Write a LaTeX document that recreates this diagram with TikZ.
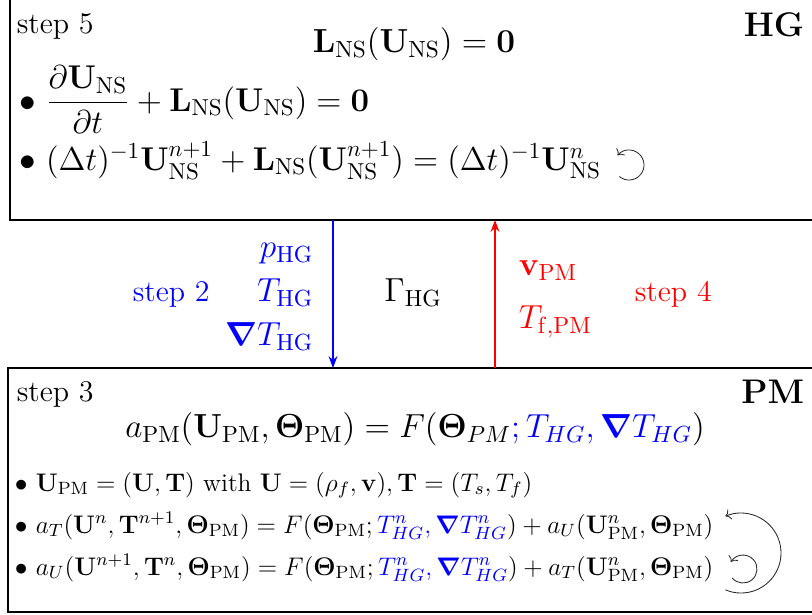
\RequirePackage{fix-cm}
\documentclass[tikz,border=0pt]{standalone}
\usepackage{amsmath}
\usetikzlibrary{arrows.meta}

\begin{document}
\begin{tikzpicture}[>=Stealth, thick, x=0.48pt, y=0.48pt,
  every node/.style={inner sep=0pt},
  steplabel/.style={font=\Large, anchor=base west},
  modelname/.style={font=\fontsize{16.4}{20}\selectfont\bfseries, anchor=base east},
  maineq/.style={font=\fontsize{16}{19}\selectfont, anchor=base},
  flux/.style={font=\fontsize{16}{19}\selectfont},
  hgitem/.style={font=\fontsize{15.8}{19}\selectfont, anchor=base west},
  pmitem/.style={font=\fontsize{12.2}{15}\selectfont, anchor=base west},
  iterloop/.style={thin, black!85, -{Computer Modern Rightarrow}}]
  %--- parameters (pixel grid of the layout)
  \def\xmax{812}
  \def\ymin{-614}
  \def\yhgbot{-220}
  \def\ypmtop{-368}
  \def\ypmbot{-612}
  \def\xdown{333}          % step 2 arrow
  \def\xup{495}            % step 4 arrow

  \useasboundingbox (0,0) rectangle (\xmax,\ymin);

  %--- the two boxes (cut by the frame)
  \draw (10,20) rectangle (\xmax+20,\yhgbot);
  \draw (8,\ypmtop) rectangle (\xmax+20,\ypmbot);

  %--- HG box
  \node[steplabel] (step5) at (16,-33) {step 5};
  \node[modelname] (hg) at (805,-36) {HG};
  \node[maineq] (nseq) at (414,-52)
    {$\mathbf{L}_{\mathrm{NS}}(\mathbf{U}_{\mathrm{NS}})=\mathbf{0}$};
  \node[hgitem] (nscont) at (19,-111)
    {$\bullet$ $\dfrac{\partial\mathbf{U}_{\mathrm{NS}}}{\partial t}
      +\mathbf{L}_{\mathrm{NS}}(\mathbf{U}_{\mathrm{NS}})=\mathbf{0}$};
  \node[hgitem] (nsdisc) at (19,-170)
    {$\bullet$ $(\Delta t)^{-1}\mathbf{U}^{n+1}_{\mathrm{NS}}
      +\mathbf{L}_{\mathrm{NS}}(\mathbf{U}^{n+1}_{\mathrm{NS}})
      =(\Delta t)^{-1}\mathbf{U}^{n}_{\mathrm{NS}}$};
  \coordinate (nsloop) at (629,-165);
  \draw[iterloop] (nsloop) ++(-130:15) arc[start angle=-130, end angle=140, radius=15];

  %--- interface
  \coordinate (hgout) at (\xdown,\yhgbot);
  \coordinate (pmin) at (\xdown,\ypmtop);
  \coordinate (pmout) at (\xup,\ypmtop);
  \coordinate (hgin) at (\xup,\yhgbot);
  \draw[->, blue, semithick] (hgout) -- (pmin);
  \draw[->, red, semithick] (pmout) -- (hgin);

  \node[steplabel, blue] (step2) at (132,-301) {step 2};
  \node[flux, anchor=base east, blue] (phg) at (314,-257) {$p_{\mathrm{HG}}$};
  \node[flux, anchor=base east, blue] (thg) at (314,-301) {$T_{\mathrm{HG}}$};
  \node[flux, anchor=base east, blue] (gradthg) at (314,-345)
    {$\boldsymbol{\nabla}T_{\mathrm{HG}}$};
  \node[maineq] (gamma) at (413,-301) {$\Gamma_{\mathrm{HG}}$};
  \node[flux, anchor=base west, red] (vpm) at (518,-275) {$\mathbf{v}_{\mathrm{PM}}$};
  \node[flux, anchor=base west, red] (tfpm) at (518,-328) {$T_{\mathrm{f,PM}}$};
  \node[steplabel, red] (step4) at (634,-301) {step 4};

  %--- PM box
  \node[steplabel] (step3) at (16,-401) {step 3};
  \node[modelname] (pm) at (805,-403) {PM};
  \node[maineq] (pmeq) at (415,-437)
    {$a_{\mathrm{PM}}(\mathbf{U}_{\mathrm{PM}},\boldsymbol{\Theta}_{\mathrm{PM}})
      =F(\boldsymbol{\Theta}_{PM}\color{blue};T_{HG},\boldsymbol{\nabla}T_{HG}\color{black})$};
  \node[pmitem] (pmvars) at (14,-491)
    {$\bullet$ $\mathbf{U}_{\mathrm{PM}}=(\mathbf{U},\mathbf{T})$ with
      $\mathbf{U}=(\rho_f,\mathbf{v}),\mathbf{T}=(T_s,T_f)$};
  \node[pmitem] (pmtemp) at (14,-533)
    {$\bullet$ $a_T(\mathbf{U}^n,\mathbf{T}^{n+1},\boldsymbol{\Theta}_{\mathrm{PM}})
      =F(\boldsymbol{\Theta}_{\mathrm{PM}};{\color{blue}T^n_{HG},\boldsymbol{\nabla}T^n_{HG}})
      +a_U(\mathbf{U}^n_{\mathrm{PM}},\boldsymbol{\Theta}_{\mathrm{PM}})$};
  \node[pmitem] (pmflow) at (14,-575)
    {$\bullet$ $a_U(\mathbf{U}^{n+1},\mathbf{T}^n,\boldsymbol{\Theta}_{\mathrm{PM}})
      =F(\boldsymbol{\Theta}_{\mathrm{PM}};{\color{blue}T^n_{HG},\boldsymbol{\nabla}T^n_{HG}})
      +a_T(\mathbf{U}^n_{\mathrm{PM}},\boldsymbol{\Theta}_{\mathrm{PM}})$};
  \coordinate (outerloop) at (741,-553);
  \coordinate (innerloop) at (743,-569);
  \draw[iterloop] (outerloop) ++(-113:40) arc[start angle=-113, end angle=113, radius=40];
  \draw[iterloop] (innerloop) ++(-140:14) arc[start angle=-140, end angle=150, radius=14];
\end{tikzpicture}
\end{document}
